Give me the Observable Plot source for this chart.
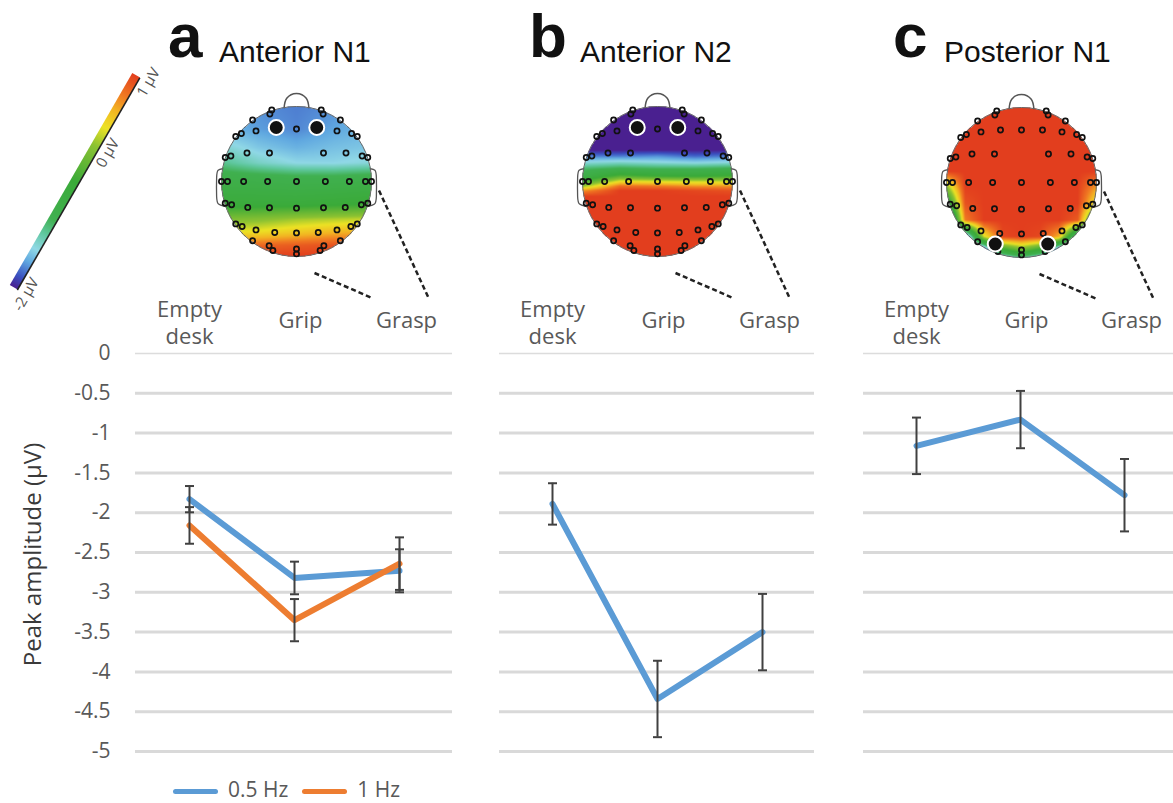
<!DOCTYPE html>
<html><head><meta charset="utf-8">
<script src="https://cdn.jsdelivr.net/npm/d3@7"></script>
<script src="https://cdn.jsdelivr.net/npm/@observablehq/plot@0.6"></script>
<style>
html,body{margin:0;padding:0;background:#fff;overflow:hidden;}
#fig{position:relative;width:1173px;height:803px;overflow:hidden;background:#fff;}
.abs{position:absolute;}
.ttl{position:absolute;font-family:"Liberation Sans",Arial,sans-serif;color:#111;line-height:1;white-space:nowrap;}
</style></head><body><div id="fig"></div>
<script>
// ---------------- data ----------------
const conditions = ["Empty desk", "Grip", "Grasp"];
const seriesNames = ["0.5 Hz", "1 Hz"];
const seriesColors = ["#5b9bd5", "#ed7d31"];
const anteriorN1_05Hz = [-1.83, -2.82, -2.73];
const anteriorN1_05Hz_err = [0.165, 0.205, 0.27];
const anteriorN1_1Hz = [-2.16, -3.35, -2.64];
const anteriorN1_1Hz_err = [0.23, 0.265, 0.33];
const anteriorN2_05Hz = [-1.89, -4.34, -3.50];
const anteriorN2_05Hz_err = [0.26, 0.48, 0.48];
const posteriorN1_05Hz = [-1.16, -0.83, -1.78];
const posteriorN1_05Hz_err = [0.355, 0.36, 0.455];
const yTicks = [0, -0.5, -1, -1.5, -2, -2.5, -3, -3.5, -4, -4.5, -5];
const yTitle = "Peak amplitude (µV)";
const panelLetters = ["a", "b", "c"];
const panelTitles = ["Anterior N1", "Anterior N2", "Posterior N1"];

// colour bar (µV)
const colorbarValues = [-2, -1.85, -1.64, -1.46, -1.25, -1.04, -0.5, 0, 0.25, 0.5, 0.7, 1];
const colorbarColors = ["#4a2090", "#3a50c0", "#60a8e0", "#90d8e6", "#60c8a0", "#40b050", "#3aaa38", "#8cc232", "#ece224", "#f2b422", "#f07a22", "#e23e1e"];
const colorbarTicks = [-2, 0, 1];

// electrode layout (head units, front = -1)
const electrodes = [
  [-0.33,-0.955],[-0.355,-0.9],[0.33,-0.955],[0.355,-0.9],
  [-0.585,-0.82],[-0.54,-0.675],[0.585,-0.82],[0.54,-0.675],
  [-0.28,-0.70],[0,-0.70],[0.28,-0.70],
  [-0.81,-0.6],[-0.735,-0.64],[0.81,-0.6],[0.735,-0.64],
  [-0.95,-0.32],[-0.875,-0.34],[-0.66,-0.38],[-0.36,-0.38],[0.36,-0.38],[0.66,-0.38],[0.875,-0.34],[0.95,-0.32],
  [-1.0,0],[-0.92,0],[-0.705,0],[-0.385,0],[0,0],[0.385,0],[0.705,0],[0.92,0],[1.0,0],
  [-0.95,0.29],[-0.865,0.31],[-0.65,0.345],[-0.36,0.35],[0,0.355],[0.36,0.35],[0.65,0.345],[0.865,0.31],[0.95,0.29],
  [-0.81,0.565],[-0.725,0.6],[-0.54,0.645],[-0.29,0.68],[0,0.685],[0.29,0.68],[0.54,0.645],[0.725,0.6],[0.81,0.565],
  [-0.585,0.79],[-0.365,0.855],[-0.315,0.92],[0,0.9],[0,0.965],[0.315,0.92],[0.365,0.855],[0.585,0.79]
];
const highlightA = [[-0.27,-0.72],[0.27,-0.72]];
const highlightB = [[-0.27,-0.72],[0.27,-0.72]];
const highlightC = [[-0.35,0.82],[0.35,0.82]];
const nose = [[-0.165,-0.985],[-0.13,-1.11],[0,-1.175],[0.13,-1.11],[0.165,-0.985]];
const earLeft = [[-0.985,-0.17],[-1.045,-0.15],[-1.065,-0.05],[-1.065,0.2],[-1.04,0.3],[-0.96,0.33]];
const earRight = [[0.985,-0.17],[1.045,-0.15],[1.065,-0.05],[1.065,0.2],[1.04,0.3],[0.96,0.33]];
const connectors = [{x1:0.24,y1:1.22,x2:1.0,y2:1.55},{x1:1.1,y1:0.12,x2:1.76,y2:1.55}];

// scalp potential samples: [row position, values across columns]
const fieldA = {cols:[-1,-0.5,0,0.5,1], rows:[
  [-1.0, -1.64,-1.7,-1.74,-1.7,-1.64],
  [-0.7, -1.58,-1.66,-1.72,-1.64,-1.58],
  [-0.45, -1.38,-1.52,-1.6,-1.55,-1.52],
  [-0.25, -1.2,-1.36,-1.46,-1.47,-1.42],
  [-0.08, -0.95,-1.0,-1.05,-1.05,-1.0],
  [0.3, -0.6,-0.6,-0.6,-0.55,-0.5],
  [0.5, -0.1,-0.05,0.05,0.1,0.15],
  [0.68, 0.25,0.3,0.4,0.5,0.55],
  [0.85, 0.7,0.8,0.85,0.9,0.85],
  [1.0, 1,1,1,1,1]]};
const fieldB = {cols:[-1,-0.5,0,0.5,1], rows:[
  [-1.0, -2,-2,-2,-2,-2],
  [-0.42, -2,-2,-2,-2,-2],
  [-0.34, -1.75,-1.75,-1.7,-1.8,-1.75],
  [-0.26, -1.45,-1.4,-1.45,-1.5,-1.45],
  [-0.18, -1.15,-1.05,-1.1,-1.1,-1.05],
  [-0.08, -0.9,-0.4,-0.55,-0.6,-0.5],
  [-0.01, -0.5,0.2,0.15,0.1,0.1],
  [0.06, 0.0,0.75,0.7,0.6,0.6],
  [0.12, 0.6,1,1,0.95,0.9],
  [0.2, 1,1,1,1,1],
  [1.0, 1,1,1,1,1]]};
const fieldC = {cols:[-1,-0.75,-0.5,-0.25,0,0.25,0.5,0.75,1], rows:[
  [-1.0, 1,1,1,1,1,1,1,1,1],
  [-0.15, 1,1,1,1,1,1,1,1,1],
  [0.05, 0.0,1,1,1,1,1,1,1,0.6],
  [0.28, -0.9,0.9,1,1,1,1,1,1,0.2],
  [0.5, -2,0.7,1,1,1,1,1,0.85,-0.8],
  [0.72, -2,-2,0.2,0.95,1,0.95,0.5,-1.5,-2],
  [0.9, -2,-2,-2,-0.6,-0.2,-0.6,-2,-2,-2],
  [1.0, -2,-2,-2,-1.6,-1.2,-1.6,-2,-2,-2]]};

// ---------------- helpers ----------------
const fig = document.getElementById("fig");
function place(el, left, top, w) {
  const d = document.createElement("div");
  d.className = "abs";
  d.style.left = left + "px"; d.style.top = top + "px";
  if (w) d.style.width = w + "px";
  d.appendChild(el); fig.appendChild(d); return d;
}
function rows(means, errs, series) {
  return conditions.map((c, i) => ({cond: c, series, mean: means[i], lo: means[i] - errs[i], hi: means[i] + errs[i]}));
}
const clamp = (v, a, b) => Math.max(a, Math.min(b, v));
function fieldValue(f, x, y) {
  const {cols, rows} = f;
  let r = 0; while (r < rows.length - 2 && y > rows[r + 1][0]) r++;
  const ty = clamp((y - rows[r][0]) / (rows[r + 1][0] - rows[r][0]), 0, 1);
  let c = 0; while (c < cols.length - 2 && x > cols[c + 1]) c++;
  const tx = clamp((x - cols[c]) / (cols[c + 1] - cols[c]), 0, 1);
  const v = (ri, ci) => rows[ri][ci + 1];
  const a = v(r, c) * (1 - tx) + v(r, c + 1) * tx;
  const b = v(r + 1, c) * (1 - tx) + v(r + 1, c + 1) * tx;
  return a * (1 - ty) + b * ty;
}
const colorScale = {type: "linear", domain: colorbarValues, range: colorbarColors, interpolate: "rgb"};
// horizontal cap symbol for error bars
const capSymbol = {draw(ctx) { ctx.moveTo(-4.5, 0); ctx.lineTo(4.5, 0); }};

// ---------------- line panels ----------------
const labelDx = [0, 6, 7];
const labelDy = [-32, -34, -34];
const panels = [
  {data: [...rows(anteriorN1_05Hz, anteriorN1_05Hz_err, seriesNames[0]), ...rows(anteriorN1_1Hz, anteriorN1_1Hz_err, seriesNames[1])], left: 0, marginLeft: 135, frame: 317, axis: true},
  {data: rows(anteriorN2_05Hz, anteriorN2_05Hz_err, seriesNames[0]), left: 479, marginLeft: 20, frame: 315},
  {data: rows(posteriorN1_05Hz, posteriorN1_05Hz_err, seriesNames[0]), left: 843, marginLeft: 20, frame: 313}
];
panels.forEach(p => {
  const marks = [
    Plot.ruleY(yTicks.filter(d => d !== 0), {stroke: "#d9d9d9", strokeWidth: 3}),
    Plot.ruleY(yTicks.filter(d => d === 0), {stroke: "#dcdcdc", strokeWidth: 1.5}),
    Plot.line(p.data, {x: "cond", y: "mean", z: "series", stroke: "series", strokeWidth: 6, strokeLinejoin: "round", strokeLinecap: "round"}),
    Plot.ruleX(p.data, {x: "cond", y1: "lo", y2: "hi", stroke: "#404040", strokeWidth: 2}),
    Plot.dot(p.data, {x: "cond", y: "lo", symbol: capSymbol, fill: "none", stroke: "#404040", strokeWidth: 2}),
    Plot.dot(p.data, {x: "cond", y: "hi", symbol: capSymbol, fill: "none", stroke: "#404040", strokeWidth: 2})
  ];
  conditions.forEach((c, i) => {
    marks.push(Plot.text([c], {x: d => d, text: d => d.replace(" ", "\n"), frameAnchor: "top", dx: labelDx[i], dy: labelDy[i], lineAnchor: "middle", lineHeight: 1.23, fontSize: 22, fill: "#595959"}));
  });
  if (p.axis) {
    marks.push(Plot.axisY(yTicks, {tickSize: 0, tickPadding: 25, tickFormat: d => String(d), fontSize: 21, fill: "#595959"}));
    marks.push(Plot.text([yTitle], {frameAnchor: "left", textAnchor: "middle", dx: -102, dy: 2, rotate: -90, fontSize: 24, fill: "#3a3a3a"}));
  }
  const w = p.marginLeft + p.frame;
  const svg = Plot.plot({
    width: w, height: 501, marginLeft: p.marginLeft, marginRight: 0, marginTop: 83, marginBottom: 20,
    x: {type: "point", domain: conditions, padding: 0.5, axis: null},
    y: {domain: [-5, 0], axis: null},
    color: {domain: seriesNames, range: seriesColors},
    style: {fontFamily: "Open Sans, sans-serif", fontSize: "21px", color: "#595959", background: "transparent", overflow: "visible"},
    marks
  });
  place(svg, p.left, 270, w);
});

// ---------------- head maps ----------------
const heads = [
  {field: fieldA, hl: highlightA, cx: 296, cy: 181},
  {field: fieldB, hl: highlightB, cx: 657, cy: 181},
  {field: fieldC, hl: highlightC, cx: 1021, cy: 182}
];
heads.forEach((h, k) => {
  try {
    const svg = Plot.plot({
      width: 300, height: 250, margin: 0,
      x: {domain: [-1.4, 2.6], range: [0, 300], axis: null},
      y: {domain: [-1.4, 1.9333], range: [0, 250], axis: null},
      color: colorScale,
      opacity: {domain: [0, 1], range: [0, 1]},
      style: {background: "transparent", overflow: "visible"},
      marks: [
        Plot.raster({x1: -1, y1: -1, x2: 1, y2: 1, width: 150, height: 150,
          fill: (x, y) => fieldValue(h.field, x, y),
          fillOpacity: (x, y) => (x * x + y * y <= 1 ? 1 : 0)}),
        Plot.line(nose, {x: d => d[0], y: d => d[1], curve: "natural", stroke: "#555", strokeWidth: 1.5}),
        Plot.line(earLeft, {x: d => d[0], y: d => d[1], curve: "natural", stroke: "#555", strokeWidth: 1.3}),
        Plot.line(earRight, {x: d => d[0], y: d => d[1], curve: "natural", stroke: "#555", strokeWidth: 1.3}),
        Plot.dot([[0, 0]], {x: d => d[0], y: d => d[1], r: 75, stroke: "#666", strokeWidth: 1, fill: "none"}),
        Plot.dot(electrodes, {x: d => d[0], y: d => d[1], r: 2.6, stroke: "#111", strokeWidth: 1.7, fill: "none"}),
        Plot.dot(h.hl, {x: d => d[0], y: d => d[1], r: 7.5, fill: "#111", stroke: "white", strokeWidth: 2}),
        Plot.link(connectors, {x1: "x1", y1: "y1", x2: "x2", y2: "y2", stroke: "#222", strokeWidth: 2.5, strokeDasharray: "5,3"})
      ]
    });
    place(svg, h.cx - 105, h.cy - 105, 300);
  } catch (e) { console.error(e); }

  // panel titles
  const L = document.createElement("div");
  L.className = "ttl"; L.textContent = panelLetters[k];
  L.style.cssText += `left:${h.cx - 128}px;top:5px;font-size:62px;font-weight:bold;`;
  fig.appendChild(L);
  const T = document.createElement("div");
  T.className = "ttl"; T.textContent = panelTitles[k];
  T.style.cssText += `left:${h.cx - 77}px;top:37px;font-size:30px;`;
  fig.appendChild(T);
});

// ---------------- colour bar ----------------
try {
  const cb = Plot.plot({
    width: 285, height: 42, marginLeft: 20, marginRight: 20, marginTop: 0, marginBottom: 33,
    x: {domain: [-2, 1], axis: null},
    y: {domain: [0, 1], axis: null},
    color: colorScale,
    style: {fontFamily: "Open Sans, sans-serif", color: "#555", background: "transparent", overflow: "visible"},
    marks: [
      Plot.raster({x1: -2, x2: 1, y1: 0, y2: 1, width: 245, height: 9, fill: (x, y) => x}),
      Plot.ruleY([0], {stroke: "#222", strokeWidth: 1.6}),
      Plot.axisX(colorbarTicks, {tickSize: 0, tickPadding: 4, tickFormat: d => `${d} µV`, fontSize: 15, fill: "#555"})
    ]
  });
  const cbDiv = place(cb, -7, 283, 285);
  cbDiv.style.transformOrigin = "20px 4.5px";
  cbDiv.style.transform = "rotate(-60deg)";
} catch (e) { console.error(e); }

// ---------------- legend ----------------
const lg = document.createElement("div");
lg.style.cssText = "position:absolute;left:173px;top:779px;height:21px;line-height:21px;display:flex;align-items:center;font-family:'Open Sans',sans-serif;font-size:21px;color:#595959;";
seriesNames.forEach((s, i) => {
  const sw = document.createElement("span");
  sw.style.cssText = `display:inline-block;width:45px;height:5px;border-radius:3px;background:${seriesColors[i]};margin-right:10px;margin-top:4px;`;
  const tx = document.createElement("span");
  tx.textContent = s; tx.style.marginRight = "14px";
  lg.appendChild(sw); lg.appendChild(tx);
});
fig.appendChild(lg);
</script></body></html>
